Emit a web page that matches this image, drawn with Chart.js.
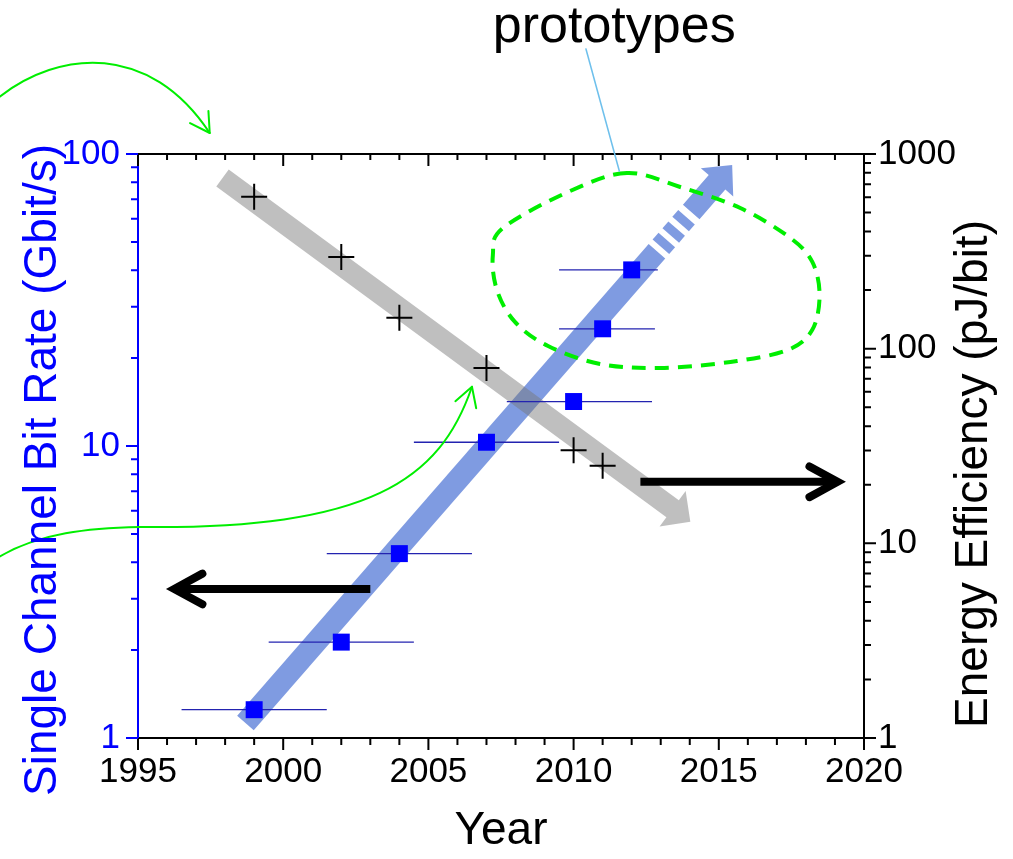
<!DOCTYPE html>
<html>
<head>
<meta charset="utf-8">
<script src="https://cdn.jsdelivr.net/npm/chart.js@4.4.1/dist/chart.umd.min.js"></script>
<style>
  html, body { margin: 0; padding: 0; background: #fff; }
  canvas { display: block; }
</style>
</head>
<body>
<canvas id="myChart" width="1013" height="859"></canvas>
<script>
// Values
const years = [1999, 2002, 2004, 2007, 2010, 2011, 2012];
const bitRate = [1.25, 2.13, 4.28, 10.3, 14.2, 25.2, 40.1]; // Gbit/s
const yearFrom = [1996.5, 1999.5, 2001.5, 2004.5, 2007.7, 2009.5, 2009.5];
const yearTo = [2001.5, 2004.5, 2006.5, 2009.5, 2012.7, 2012.8, 2012.9];

const effYears = [1999, 2002, 2004, 2007, 2010, 2011];
const energyEff = [603, 296, 144, 79.5, 30.1, 25.0]; // pJ/bit

const xTicks = [1995, 2000, 2005, 2010, 2015, 2020];
const leftTicks = [1, 10, 100];
const rightTicks = [1, 10, 100, 1000];

// Trend arrows (data units: [year, value])
const rateTrend = [[1998.7, 1.125], [2015.46, 91.7]];   // left axis
const rateTrendDashed = [2012.87, 2014.05];             // years where it turns dashed
const effTrend = [[1997.91, 753], [2014.02, 12.9]];     // right axis

// Black "which axis" arrows
const leftArrow = { y: 3.24, from: 2003.0, to: 1996.25 };   // left axis
const rightArrow = { y: 20.7, from: 2012.3, to: 2019.09 };  // right axis

// Green hand-drawn pointers (left axis units, cubic bezier chains)
const greenTop = [[1990.22, 156.7], [1992.29, 227], [1995.40, 242], [1997.47, 118]];
const greenLow = [[1990.22, 4.17], [1991.60, 5.04], [1993.33, 5.24], [1995.05, 5.28],
                  [2002.98, 5.16], [2005.40, 7.65], [2006.50, 15.96]];

// "prototypes" outline (left axis units)
const protoOutline = [
  [2011.84, 86.1], [2009.88, 74.7], [2007.57, 55.8], [2007.22, 45.1], [2007.36, 34.2],
  [2007.98, 26.6], [2009.12, 22.0], [2010.91, 19.1], [2012.98, 18.5], [2015.40, 19.4],
  [2017.36, 21.3], [2018.22, 25.0], [2018.47, 32.9], [2018.22, 42.7], [2017.46, 51.6],
  [2015.74, 65.3], [2013.67, 77.1]
];
const protoLeader = [[2010.42, 230], [2011.58, 87.0]];
const protoLabel = { text: "prototypes", at: [2011.4, 242] };

const FONT = "'Liberation Sans', Arial, Helvetica, sans-serif";
const BLUE = "#0000ff";
const GREEN = "#00ee00";

Chart.defaults.font.family = FONT;

function bandPolygon(ctx, a, b, w, headLen, headW) {
  const dx = b.x - a.x, dy = b.y - a.y;
  const len = Math.hypot(dx, dy);
  const ux = dx / len, uy = dy / len, nx = -uy, ny = ux;
  const bx = b.x - ux * headLen, by = b.y - uy * headLen;
  ctx.beginPath();
  ctx.moveTo(a.x + nx * w / 2, a.y + ny * w / 2);
  ctx.lineTo(bx + nx * w / 2, by + ny * w / 2);
  ctx.lineTo(bx + nx * headW / 2, by + ny * headW / 2);
  ctx.lineTo(b.x, b.y);
  ctx.lineTo(bx - nx * headW / 2, by - ny * headW / 2);
  ctx.lineTo(bx - nx * w / 2, by - ny * w / 2);
  ctx.lineTo(a.x - nx * w / 2, a.y - ny * w / 2);
  ctx.closePath();
  ctx.fill();
}

function rect(ctx, a, b, w) {
  const dx = b.x - a.x, dy = b.y - a.y;
  const len = Math.hypot(dx, dy);
  const nx = -dy / len, ny = dx / len;
  ctx.beginPath();
  ctx.moveTo(a.x + nx * w / 2, a.y + ny * w / 2);
  ctx.lineTo(b.x + nx * w / 2, b.y + ny * w / 2);
  ctx.lineTo(b.x - nx * w / 2, b.y - ny * w / 2);
  ctx.lineTo(a.x - nx * w / 2, a.y - ny * w / 2);
  ctx.closePath();
  ctx.fill();
}

function openHead(ctx, tip, dirx, diry, len, ang) {
  const l = Math.hypot(dirx, diry);
  const bx = -dirx / l, by = -diry / l;
  ctx.beginPath();
  [ang, -ang].forEach((t, k) => {
    const rx = bx * Math.cos(t) - by * Math.sin(t);
    const ry = bx * Math.sin(t) + by * Math.cos(t);
    if (k === 0) {
      ctx.moveTo(tip.x + rx * len, tip.y + ry * len);
      ctx.lineTo(tip.x, tip.y);
    } else {
      ctx.lineTo(tip.x + rx * len, tip.y + ry * len);
    }
  });
  ctx.stroke();
}

const decorations = {
  id: "decorations",
  beforeDatasetsDraw(chart) {
    const ctx = chart.ctx;
    const sx = chart.scales.x, sl = chart.scales.yL, sr = chart.scales.yR;
    ctx.save();

    // blue trend: solid, short dashes, then arrow head
    const a = { x: sx.getPixelForValue(rateTrend[0][0]), y: sl.getPixelForValue(rateTrend[0][1]) };
    const b = { x: sx.getPixelForValue(rateTrend[1][0]), y: sl.getPixelForValue(rateTrend[1][1]) };
    const at = (yr) => {
      const t = (sx.getPixelForValue(yr) - a.x) / (b.x - a.x);
      return { x: a.x + (b.x - a.x) * t, y: a.y + (b.y - a.y) * t };
    };
    const d0 = at(rateTrendDashed[0]), d1 = at(rateTrendDashed[1]);
    ctx.fillStyle = "rgb(127,155,225)";
    rect(ctx, a, d0, 22);
    bandPolygon(ctx, d1, b, 22, 23, 43);
    const dl = Math.hypot(d1.x - d0.x, d1.y - d0.y);
    const ux = (d1.x - d0.x) / dl, uy = (d1.y - d0.y) / dl;
    for (let p = 6; p + 9 <= dl - 3; p += 15) {
      rect(ctx, { x: d0.x + ux * p, y: d0.y + uy * p }, { x: d0.x + ux * (p + 9), y: d0.y + uy * (p + 9) }, 22);
    }

    // gray trend (semi transparent, on top of the blue one)
    const g0 = { x: sx.getPixelForValue(effTrend[0][0]), y: sr.getPixelForValue(effTrend[0][1]) };
    const g1 = { x: sx.getPixelForValue(effTrend[1][0]), y: sr.getPixelForValue(effTrend[1][1]) };
    ctx.fillStyle = "rgba(118,118,118,0.47)";
    bandPolygon(ctx, g0, g1, 21, 22, 44);

    // horizontal year ranges
    ctx.strokeStyle = "#2323b0";
    ctx.lineWidth = 1.3;
    years.forEach((yr, i) => {
      const y = sl.getPixelForValue(bitRate[i]);
      ctx.beginPath();
      ctx.moveTo(sx.getPixelForValue(yearFrom[i]), y);
      ctx.lineTo(sx.getPixelForValue(yearTo[i]), y);
      ctx.stroke();
    });
    ctx.restore();
  },
  afterDraw(chart) {
    const ctx = chart.ctx;
    const area = chart.chartArea;
    const sx = chart.scales.x, sl = chart.scales.yL, sr = chart.scales.yR;
    const PL = (p) => ({ x: sx.getPixelForValue(p[0]), y: sl.getPixelForValue(p[1]) });
    ctx.save();
    ctx.lineCap = "butt";

    // top frame line
    ctx.strokeStyle = "#000";
    ctx.lineWidth = 2;
    ctx.beginPath();
    ctx.moveTo(area.left, area.top);
    ctx.lineTo(area.right, area.top);
    ctx.stroke();

    // year ticks, bottom outward and top inward
    for (let yr = xTicks[0]; yr <= xTicks[xTicks.length - 1]; yr++) {
      const x = sx.getPixelForValue(yr);
      const major = yr % 5 === 0;
      ctx.beginPath();
      ctx.moveTo(x, area.bottom);
      ctx.lineTo(x, area.bottom + (major ? 12 : 7));
      ctx.moveTo(x, area.top);
      ctx.lineTo(x, area.top + (major ? 12 : 6));
      ctx.stroke();
    }

    // log ticks
    const logTicks = (scale, ticks, side, color) => {
      ctx.strokeStyle = color;
      ctx.beginPath();
      const top = ticks[ticks.length - 1];
      for (let dec = ticks[0]; dec <= top; dec *= 10) {
        for (let m = 1; m <= 9; m++) {
          const v = dec * m;
          if (v > top) break;
          const y = scale.getPixelForValue(v);
          const len = m === 1 ? 12 : 7;
          const x0 = side === "left" ? area.left : area.right;
          ctx.moveTo(x0, y);
          ctx.lineTo(side === "left" ? x0 - len : x0 + len, y);
        }
      }
      ctx.stroke();
    };
    logTicks(sl, leftTicks, "left", BLUE);
    logTicks(sr, rightTicks, "right", "#000");

    // black axis arrows
    const blackArrow = (arr, scale) => {
      const y = scale.getPixelForValue(arr.y);
      const x0 = sx.getPixelForValue(arr.from), x1 = sx.getPixelForValue(arr.to);
      const dir = Math.sign(x1 - x0);
      ctx.strokeStyle = "#000";
      ctx.lineWidth = 8;
      ctx.lineCap = "butt";
      ctx.beginPath();
      ctx.moveTo(x0, y);
      ctx.lineTo(x1 - dir * 4, y);
      ctx.stroke();
      ctx.lineCap = "round";
      ctx.lineJoin = "miter";
      openHead(ctx, { x: x1, y: y }, dir, 0, 32, Math.PI / 6.3);
    };
    blackArrow(leftArrow, sl);
    blackArrow(rightArrow, sr);

    // green pointers
    const greenPath = (pts) => {
      const p = pts.map(PL);
      ctx.strokeStyle = GREEN;
      ctx.lineWidth = 2;
      ctx.lineCap = "round";
      ctx.lineJoin = "round";
      ctx.beginPath();
      ctx.moveTo(p[0].x, p[0].y);
      for (let i = 1; i + 2 < p.length; i += 3) {
        ctx.bezierCurveTo(p[i].x, p[i].y, p[i + 1].x, p[i + 1].y, p[i + 2].x, p[i + 2].y);
      }
      ctx.stroke();
      const e = p[p.length - 1], c = p[p.length - 2];
      openHead(ctx, e, e.x - c.x, e.y - c.y, 22, Math.PI / 6);
    };
    greenPath(greenTop);
    greenPath(greenLow);

    // prototypes outline
    const q = protoOutline.map(PL);
    const n = q.length;
    ctx.strokeStyle = GREEN;
    ctx.lineWidth = 4;
    ctx.lineCap = "butt";
    ctx.setLineDash([14, 9]);
    ctx.beginPath();
    ctx.moveTo(q[0].x, q[0].y);
    for (let i = 0; i < n; i++) {
      const p0 = q[(i - 1 + n) % n], p1 = q[i], p2 = q[(i + 1) % n], p3 = q[(i + 2) % n];
      ctx.bezierCurveTo(p1.x + (p2.x - p0.x) / 6, p1.y + (p2.y - p0.y) / 6,
                        p2.x - (p3.x - p1.x) / 6, p2.y - (p3.y - p1.y) / 6, p2.x, p2.y);
    }
    ctx.closePath();
    ctx.stroke();
    ctx.setLineDash([]);

    // leader + label
    const l0 = PL(protoLeader[0]), l1 = PL(protoLeader[1]);
    ctx.strokeStyle = "#6ec0ec";
    ctx.lineWidth = 1.6;
    ctx.beginPath();
    ctx.moveTo(l0.x, l0.y);
    ctx.lineTo(l1.x, l1.y);
    ctx.stroke();
    const lp = PL(protoLabel.at);
    ctx.fillStyle = "#000";
    ctx.font = "52px " + FONT;
    ctx.textAlign = "center";
    ctx.textBaseline = "alphabetic";
    ctx.fillText(protoLabel.text, lp.x, lp.y);

    // vertical axis titles (both read bottom to top)
    const midY = (area.top + area.bottom) / 2;
    ctx.font = "46px " + FONT;
    ctx.textBaseline = "middle";
    ctx.save();
    ctx.translate(area.left - 95, midY + 24);
    ctx.rotate(-Math.PI / 2);
    ctx.fillStyle = BLUE;
    ctx.fillText("Single Channel Bit Rate (Gbit/s)", 0, 0);
    ctx.restore();
    ctx.save();
    ctx.translate(area.right + 110, midY + 28);
    ctx.rotate(-Math.PI / 2);
    ctx.fillStyle = "#000";
    ctx.fillText("Energy Efficiency (pJ/bit)", 0, 0);
    ctx.restore();

    ctx.restore();
  }
};

const ctx = document.getElementById("myChart");
const myChart = new Chart(ctx, {
  type: "scatter",
  data: {
    datasets: [
      {
        label: "Single channel bit rate",
        data: years.map((x, i) => ({ x: x, y: bitRate[i] })),
        yAxisID: "yL",
        pointStyle: "rect",
        pointRadius: 12,
        pointHoverRadius: 12,
        backgroundColor: BLUE,
        borderWidth: 0,
      },
      {
        label: "Energy efficiency",
        data: effYears.map((x, i) => ({ x: x, y: energyEff[i] })),
        yAxisID: "yR",
        pointStyle: "cross",
        pointRadius: 13,
        pointHoverRadius: 13,
        borderColor: "#000",
        backgroundColor: "#000",
        borderWidth: 2,
      },
    ],
  },
  options: {
    responsive: false,
    animation: false,
    devicePixelRatio: 1,
    layout: { padding: { top: 154, left: 0, right: 0, bottom: 0 } },
    plugins: { legend: { display: false }, tooltip: { enabled: false } },
    scales: {
      x: {
        type: "linear",
        position: "bottom",
        min: 1995,
        max: 2020,
        afterBuildTicks: (s) => { s.ticks = xTicks.map((v) => ({ value: v })); },
        afterFit: (s) => { s.height = 121; },
        ticks: { color: "#000", font: { size: 35 }, padding: 13, maxRotation: 0, autoSkip: false, callback: (v) => String(v) },
        grid: { display: false, drawTicks: false },
        border: { display: true, color: "#000", width: 2 },
        title: { display: true, text: "Year", color: "#000", font: { size: 46 }, padding: { top: 0, bottom: 0 } },
      },
      yL: {
        type: "logarithmic",
        position: "left",
        min: 1,
        max: 100,
        afterBuildTicks: (s) => { s.ticks = leftTicks.map((v) => ({ value: v })); },
        afterFit: (s) => { s.width = 138; },
        ticks: { color: BLUE, font: { size: 35 }, padding: 18, autoSkip: false, callback: (v) => String(v) },
        grid: { display: false, drawTicks: false },
        border: { display: true, color: BLUE, width: 2 },
      },
      yR: {
        type: "logarithmic",
        position: "right",
        min: 1,
        max: 1000,
        afterBuildTicks: (s) => { s.ticks = rightTicks.map((v) => ({ value: v })); },
        afterFit: (s) => { s.width = 149; },
        ticks: { color: "#000", font: { size: 35 }, padding: 14, autoSkip: false, callback: (v) => String(v) },
        grid: { display: false, drawTicks: false },
        border: { display: true, color: "#000", width: 2 },
      },
    },
  },
  plugins: [decorations],
});
</script>
</body>
</html>
